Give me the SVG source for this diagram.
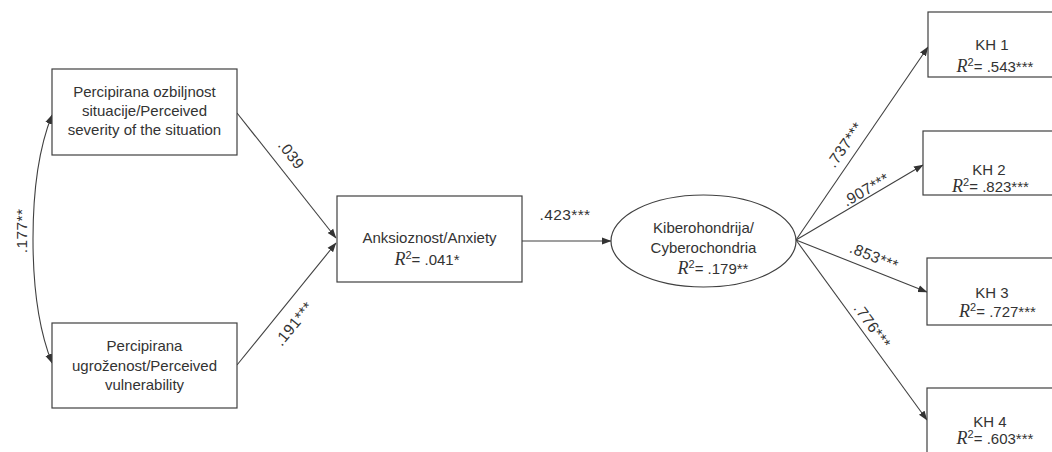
<svg xmlns="http://www.w3.org/2000/svg" width="1052" height="452" viewBox="0 0 1052 452">
<style>
.box{fill:#fff;stroke:#404040;stroke-width:1.2}
.t{font-family:"Liberation Sans",Arial,sans-serif;font-size:15px;fill:#333;text-anchor:middle}
.l{font-size:15.5px;letter-spacing:0.4px}
.r{font-family:"Liberation Serif","Times New Roman",serif;font-style:italic;font-size:18px}
.sup{font-size:11px}
.ln{fill:none;stroke:#404040;stroke-width:1.1}
</style>
<defs>
<marker id="ah" markerUnits="userSpaceOnUse" markerWidth="10" markerHeight="8" refX="9" refY="4" orient="auto-start-reverse" viewBox="0 0 10 8">
<path d="M0,0.5 L9.5,4 L0,7.5 Z" fill="#333"/>
</marker>
</defs>
<rect width="1052" height="452" fill="#fff"/>
<g id="connectors">
<path class="ln" d="M52,115 C38,150 33,190 33,239 C33,288 38,328 52,363" marker-start="url(#ah)" marker-end="url(#ah)"/>
<line class="ln" x1="237" y1="113" x2="336" y2="238" marker-end="url(#ah)"/>
<line class="ln" x1="237" y1="365" x2="336" y2="243" marker-end="url(#ah)"/>
<line class="ln" x1="522" y1="241" x2="611" y2="241" marker-end="url(#ah)"/>
<line class="ln" x1="796" y1="240" x2="928" y2="47" marker-end="url(#ah)"/>
<line class="ln" x1="796" y1="240" x2="923" y2="165" marker-end="url(#ah)"/>
<line class="ln" x1="796" y1="240" x2="927" y2="292" marker-end="url(#ah)"/>
<line class="ln" x1="796" y1="240" x2="927" y2="420" marker-end="url(#ah)"/>
<text class="t l" transform="translate(22,231) rotate(-90)" y="5">.177**</text>
<text class="t l" transform="translate(291,155) rotate(52)" y="5">.039</text>
<text class="t l" transform="translate(294,324) rotate(-51)" y="5">.191***</text>
<text class="t l" x="565" y="220">.423***</text>
<text class="t l" transform="translate(845,145) rotate(-55)" y="5">.737***</text>
<text class="t l" transform="translate(866,190) rotate(-30)" y="5">.907***</text>
<text class="t l" transform="translate(874,257) rotate(22)" y="5">.853***</text>
<text class="t l" transform="translate(872,326) rotate(54)" y="5">.776***</text>
</g>
<g id="severity">
<rect class="box" x="52" y="69" width="185" height="86"/>
<text class="t" x="144.5" y="97">Percipirana ozbiljnost</text>
<text class="t" x="144.5" y="116">situacije/Perceived</text>
<text class="t" x="144.5" y="135">severity of the situation</text>
</g>
<g id="vulnerability">
<rect class="box" x="52" y="323" width="185" height="85"/>
<text class="t" x="144.5" y="351">Percipirana</text>
<text class="t" x="144.5" y="371">ugroženost/Perceived</text>
<text class="t" x="144.5" y="390">vulnerability</text>
</g>
<g id="anxiety">
<rect class="box" x="337" y="196" width="185" height="86"/>
<text class="t" x="429.5" y="243">Anksioznost/Anxiety</text>
<text class="t" x="427" y="265"><tspan class="r">R</tspan><tspan class="sup" dy="-6">2</tspan><tspan dy="6">= .041*</tspan></text>
</g>
<g id="cyberochondria">
<ellipse class="box" cx="703.5" cy="241" rx="92.5" ry="46"/>
<text class="t" x="703.5" y="233">Kiberohondrija/</text>
<text class="t" x="703.5" y="253">Cyberochondria</text>
<text class="t" x="713" y="274"><tspan class="r">R</tspan><tspan class="sup" dy="-6">2</tspan><tspan dy="6">= .179**</tspan></text>
</g>
<g id="kh1">
<rect class="box" x="928" y="12" width="140" height="65"/>
<text class="t" x="992" y="50">KH 1</text>
<text class="t" x="995" y="72"><tspan class="r">R</tspan><tspan class="sup" dy="-6">2</tspan><tspan dy="6">= .543***</tspan></text>
</g>
<g id="kh2">
<rect class="box" x="923" y="131" width="145" height="64"/>
<text class="t" x="989" y="175">KH 2</text>
<text class="t" x="990.5" y="192"><tspan class="r">R</tspan><tspan class="sup" dy="-6">2</tspan><tspan dy="6">= .823***</tspan></text>
</g>
<g id="kh3">
<rect class="box" x="927" y="258" width="141" height="67"/>
<text class="t" x="992" y="298">KH 3</text>
<text class="t" x="997.5" y="317"><tspan class="r">R</tspan><tspan class="sup" dy="-6">2</tspan><tspan dy="6">= .727***</tspan></text>
</g>
<g id="kh4">
<rect class="box" x="927" y="388" width="141" height="80"/>
<text class="t" x="990" y="427">KH 4</text>
<text class="t" x="995" y="444"><tspan class="r">R</tspan><tspan class="sup" dy="-6">2</tspan><tspan dy="6">= .603***</tspan></text>
</g>
</svg>
